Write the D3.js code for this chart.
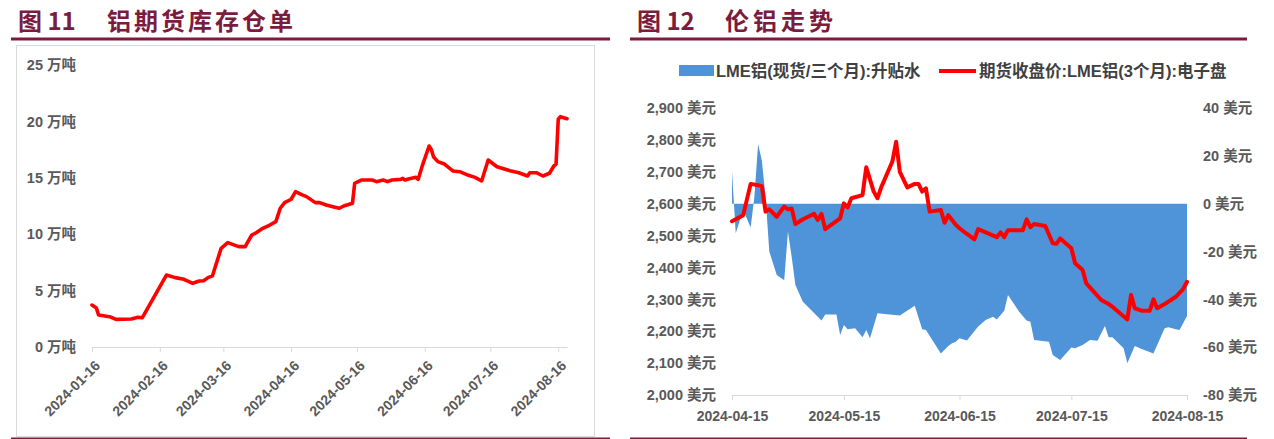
<!DOCTYPE html>
<html><head><meta charset="utf-8">
<script src="https://cdn.jsdelivr.net/npm/d3@7"></script>
<style>
body{margin:0;background:#fff;}
svg{display:block;font-family:Arial,"Liberation Sans","Noto Sans CJK SC",sans-serif;}
</style></head><body>
<svg id="c" width="1274" height="439"></svg>
<script>
// ---------- Chart 11: 铝期货库存仓单 (万吨) ----------
const stockDates = ["2024-01-16","2024-01-18","2024-01-19","2024-01-24","2024-01-27","2024-02-03","2024-02-06","2024-02-08","2024-02-19","2024-02-23","2024-02-27","2024-03-02","2024-03-05","2024-03-07","2024-03-09","2024-03-11","2024-03-15","2024-03-18","2024-03-23","2024-03-26","2024-03-27","2024-03-29","2024-03-31","2024-04-03","2024-04-06","2024-04-09","2024-04-11","2024-04-13","2024-04-16","2024-04-18","2024-04-21","2024-04-23","2024-04-27","2024-04-29","2024-05-02","2024-05-06","2024-05-08","2024-05-10","2024-05-14","2024-05-15","2024-05-18","2024-05-23","2024-05-25","2024-05-28","2024-05-30","2024-06-01","2024-06-05","2024-06-06","2024-06-07","2024-06-09","2024-06-12","2024-06-13","2024-06-15","2024-06-18","2024-06-19","2024-06-20","2024-06-22","2024-06-25","2024-06-29","2024-07-02","2024-07-06","2024-07-09","2024-07-12","2024-07-15","2024-07-19","2024-07-25","2024-07-29","2024-08-02","2024-08-03","2024-08-06","2024-08-09","2024-08-12","2024-08-14","2024-08-15","2024-08-16","2024-08-17","2024-08-20"];
const stockValues = [3.72,3.45,2.84,2.69,2.45,2.48,2.63,2.60,6.38,6.15,6.00,5.65,5.85,5.88,6.15,6.30,8.75,9.25,8.90,8.90,9.25,9.93,10.13,10.52,10.79,11.11,12.30,12.80,13.10,13.77,13.48,13.33,12.80,12.80,12.59,12.38,12.30,12.50,12.74,14.51,14.80,14.80,14.66,14.80,14.66,14.80,14.86,14.95,14.80,14.92,15.04,14.86,16.13,17.82,17.52,16.87,16.43,16.22,15.60,15.54,15.22,15.04,14.72,16.58,15.98,15.63,15.45,15.16,15.45,15.45,15.16,15.40,16.05,16.22,20.19,20.42,20.24];
const stockXTicks = ["2024-01-16","2024-02-16","2024-03-16","2024-04-16","2024-05-16","2024-06-16","2024-07-16","2024-08-16"];
const stockYTicks = [0,5,10,15,20,25];
const stockDomain = ["2024-01-16","2024-08-20"];

// ---------- Chart 12: 伦铝走势 ----------
const priceDates = ["2024-04-15","2024-04-18","2024-04-20","2024-04-22","2024-04-23","2024-04-24","2024-04-25","2024-04-27","2024-04-29","2024-04-30","2024-05-01","2024-05-02","2024-05-04","2024-05-07","2024-05-08","2024-05-09","2024-05-10","2024-05-14","2024-05-15","2024-05-16","2024-05-17","2024-05-20","2024-05-21","2024-05-23","2024-05-24","2024-05-25","2024-05-28","2024-05-29","2024-05-30","2024-06-01","2024-06-03","2024-06-04","2024-06-05","2024-06-06","2024-06-07","2024-06-10","2024-06-11","2024-06-12","2024-06-14","2024-06-15","2024-06-17","2024-06-19","2024-06-20","2024-06-25","2024-06-26","2024-06-27","2024-06-28","2024-07-02","2024-07-03","2024-07-04","2024-07-05","2024-07-08","2024-07-10","2024-07-11","2024-07-12","2024-07-15","2024-07-16","2024-07-18","2024-07-19","2024-07-23","2024-07-25","2024-07-26","2024-07-30","2024-07-31","2024-08-01","2024-08-03","2024-08-05","2024-08-06","2024-08-07","2024-08-09","2024-08-12","2024-08-13","2024-08-14","2024-08-15"];
const priceValues = [2545,2564,2662,2658,2655,2575,2582,2559,2591,2582,2585,2536,2551,2568,2549,2568,2520,2554,2601,2588,2617,2627,2714,2638,2617,2651,2732,2794,2700,2651,2662,2662,2638,2648,2575,2580,2540,2564,2534,2523,2505,2488,2520,2495,2510,2495,2517,2517,2551,2526,2536,2530,2476,2474,2491,2460,2413,2392,2350,2298,2285,2277,2237,2314,2272,2264,2264,2300,2272,2285,2308,2320,2333,2355];
const spreadDates = ["2024-04-15","2024-04-16","2024-04-18","2024-04-20","2024-04-21","2024-04-22","2024-04-23","2024-04-24","2024-04-25","2024-04-27","2024-04-29","2024-04-30","2024-05-01","2024-05-02","2024-05-04","2024-05-09","2024-05-10","2024-05-13","2024-05-14","2024-05-15","2024-05-16","2024-05-18","2024-05-20","2024-05-21","2024-05-22","2024-05-24","2024-05-30","2024-06-03","2024-06-05","2024-06-06","2024-06-08","2024-06-10","2024-06-12","2024-06-13","2024-06-14","2024-06-15","2024-06-17","2024-06-20","2024-06-22","2024-06-24","2024-06-25","2024-06-27","2024-06-28","2024-07-01","2024-07-03","2024-07-04","2024-07-05","2024-07-09","2024-07-10","2024-07-12","2024-07-15","2024-07-16","2024-07-18","2024-07-20","2024-07-22","2024-07-23","2024-07-24","2024-07-25","2024-07-26","2024-07-29","2024-07-30","2024-08-01","2024-08-03","2024-08-06","2024-08-09","2024-08-10","2024-08-12","2024-08-13","2024-08-15"];
const spreadValues = [13.4,-12.4,-2.7,-10,2.9,25,18,3,-20,-29.8,-32,-11.7,-22.2,-34,-41,-48.9,-46.3,-46.3,-54.9,-50.7,-52.5,-52.1,-55.9,-52.8,-56.3,-45.8,-46.8,-42.7,-52.5,-52.8,-57.7,-62.6,-59.5,-58.4,-57.7,-56.3,-57.2,-51.4,-48.6,-47.3,-48.4,-44.8,-38.2,-45.2,-48.9,-49.4,-57,-57.7,-63.3,-65.4,-60.1,-60.5,-59.1,-57,-57.3,-54.2,-51.2,-55.9,-55.9,-60.5,-66.7,-59.5,-60.9,-62.6,-52.1,-51.7,-52.5,-52.8,-47];
const lmeXTicks = ["2024-04-15","2024-05-15","2024-06-15","2024-07-15","2024-08-15"];
const priceYTicks = [2000,2100,2200,2300,2400,2500,2600,2700,2800,2900];
const spreadYTicks = [-80,-60,-40,-20,0,20,40];
const lmeDomain = ["2024-04-15","2024-08-15"];
const legendNames = ["LME铝(现货/三个月):升贴水","期货收盘价:LME铝(3个月):电子盘"];

const parse = d3.timeParse("%Y-%m-%d");
const fmt = d3.timeFormat("%Y-%m-%d");
const fmtThousands = d3.format(",");
const MAROON = "#7b1c3e", RED = "#ff0000", BLUE = "#4f94d8", AXIS = "#d9d9d9", TXT = "#595959";

const svg = d3.select("#c");

// ---------- titles & rules ----------
function title(x0, x1, num, name, nameX, spacing) {
  svg.append("text").attr("x", x0 + 7).attr("y", 30).attr("fill", MAROON)
    .attr("font-size", 24).attr("font-weight", "bold")
    .attr("font-family", "'Noto Sans CJK SC',sans-serif").text(num);
  svg.append("text").attr("x", nameX).attr("y", 30).attr("fill", MAROON)
    .attr("font-size", 24).attr("font-weight", "bold").attr("letter-spacing", spacing)
    .attr("font-family", "'Noto Sans CJK SC',sans-serif").text(name);
  svg.append("line").attr("x1", x0).attr("x2", x1).attr("y1", 39).attr("y2", 39)
    .attr("stroke", MAROON).attr("stroke-width", 3);
  svg.append("line").attr("x1", x0).attr("x2", x1).attr("y1", 438.3).attr("y2", 438.3)
    .attr("stroke", MAROON).attr("stroke-width", 1.5);
}
title(11, 610, "图 11", "铝期货库存仓单", 107, 3);
title(630, 1247, "图 12", "伦铝走势", 725, 4);

// ---------- Chart 11 ----------
svg.append("rect").attr("x", 16.5).attr("y", 45.5).attr("width", 578).attr("height", 391)
  .attr("fill", "none").attr("stroke", AXIS).attr("stroke-width", 1);

const x1s = d3.scaleTime().domain(stockDomain.map(parse)).range([92, 567]);
const y1s = d3.scaleLinear().domain([0, 25]).range([347, 65]);

const gx1 = svg.append("g").attr("transform", "translate(0,347)")
  .call(d3.axisBottom(x1s).tickValues(stockXTicks.map(parse)).tickFormat(fmt).tickSize(5).tickSizeOuter(0));
gx1.select(".domain").attr("stroke", AXIS);
gx1.selectAll(".tick line").attr("stroke", AXIS);
gx1.selectAll(".tick text").attr("fill", TXT).attr("font-size", 14).attr("font-weight", "bold")
  .attr("text-anchor", "end").attr("x", 0).attr("y", 0).attr("dy", "0.35em")
  .attr("transform", "translate(5,16) rotate(-45)");

svg.append("g").selectAll("text").data(stockYTicks).join("text")
  .attr("x", 76).attr("y", d => y1s(d)).attr("dy", "0.36em")
  .attr("text-anchor", "end").attr("fill", TXT).attr("font-size", 14.5).attr("font-weight", "bold")
  .text(d => d + " 万吨");

const stockData = stockDates.map((d, i) => ({ date: parse(d), v: stockValues[i] }));
svg.append("path").datum(stockData)
  .attr("fill", "none").attr("stroke", RED).attr("stroke-width", 3.6)
  .attr("stroke-linejoin", "round").attr("stroke-linecap", "round")
  .attr("d", d3.line().x(d => x1s(d.date)).y(d => y1s(d.v)));

// ---------- Chart 12 ----------
const x2s = d3.scaleTime().domain(lmeDomain.map(parse)).range([732, 1187]);
const yP = d3.scaleLinear().domain([2000, 2900]).range([395, 108]);
const yS = d3.scaleLinear().domain([-80, 40]).range([395, 108]);

// legend
svg.append("rect").attr("x", 679).attr("y", 65).attr("width", 35).attr("height", 11).attr("fill", BLUE);
svg.append("text").attr("x", 716).attr("y", 76.5).attr("fill", "#404040")
  .attr("font-size", 16.5).attr("font-weight", "bold").text(legendNames[0]);
svg.append("line").attr("x1", 939).attr("x2", 976).attr("y1", 71).attr("y2", 71)
  .attr("stroke", RED).attr("stroke-width", 4);
svg.append("text").attr("x", 979).attr("y", 76.5).attr("fill", "#404040")
  .attr("font-size", 16.5).attr("font-weight", "bold").text(legendNames[1]);

// area (spread, right axis)
const spreadData = spreadDates.map((d, i) => ({ date: parse(d), v: spreadValues[i] }));
svg.append("path").datum(spreadData).attr("fill", BLUE)
  .attr("d", d3.area().x(d => x2s(d.date)).y0(yS(0)).y1(d => yS(d.v)));

// axes
const gx2 = svg.append("g").attr("transform", "translate(0,395)")
  .call(d3.axisBottom(x2s).tickValues(lmeXTicks.map(parse)).tickFormat(fmt).tickSize(5).tickSizeOuter(0));
gx2.select(".domain").attr("stroke", AXIS);
gx2.selectAll(".tick line").attr("stroke", AXIS);
gx2.selectAll(".tick text").attr("fill", TXT).attr("font-size", 14).attr("font-weight", "bold")
  .attr("y", 16).attr("dy", "0.71em");

svg.append("g").selectAll("text").data(priceYTicks).join("text")
  .attr("x", 716).attr("y", d => yP(d)).attr("dy", "0.36em")
  .attr("text-anchor", "end").attr("fill", TXT).attr("font-size", 14.5).attr("font-weight", "bold")
  .text(d => fmtThousands(d) + " 美元");

svg.append("g").selectAll("text").data(spreadYTicks).join("text")
  .attr("x", 1203).attr("y", d => yS(d)).attr("dy", "0.36em")
  .attr("text-anchor", "start").attr("fill", TXT).attr("font-size", 14.5).attr("font-weight", "bold")
  .text(d => d + " 美元");

// price line (left axis)
const priceData = priceDates.map((d, i) => ({ date: parse(d), v: priceValues[i] }));
svg.append("path").datum(priceData)
  .attr("fill", "none").attr("stroke", RED).attr("stroke-width", 4)
  .attr("stroke-linejoin", "round").attr("stroke-linecap", "round")
  .attr("d", d3.line().x(d => x2s(d.date)).y(d => yP(d.v)));
</script>
</body></html>
